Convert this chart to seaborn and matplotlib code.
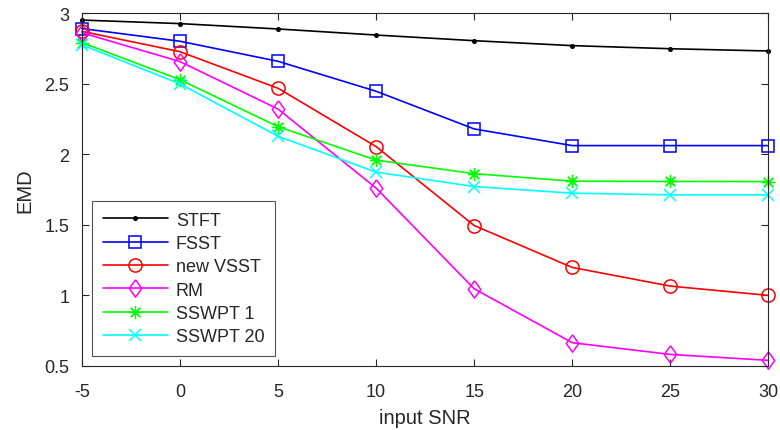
import matplotlib
matplotlib.use("Agg")
import matplotlib.pyplot as plt
import seaborn as sns
import pandas as pd

snr = [-5, 0, 5, 10, 15, 20, 25, 30]

stft = [2.95, 2.925, 2.887, 2.844, 2.804, 2.769, 2.747, 2.731]
fsst = [2.89, 2.80, 2.658, 2.446, 2.179, 2.061, 2.061, 2.061]
new_vsst = [2.87, 2.726, 2.467, 2.054, 1.495, 1.198, 1.066, 1.00]
rm = [2.86, 2.656, 2.32, 1.76, 1.047, 0.665, 0.582, 0.54]
sswpt1 = [2.79, 2.528, 2.195, 1.958, 1.862, 1.809, 1.807, 1.806]
sswpt20 = [2.774, 2.498, 2.127, 1.873, 1.771, 1.724, 1.712, 1.712]

methods = ["STFT", "FSST", "new VSST", "RM", "SSWPT 1", "SSWPT 20"]
series = [stft, fsst, new_vsst, rm, sswpt1, sswpt20]

x_ticks = [-5, 0, 5, 10, 15, 20, 25, 30]
y_ticks = [0.5, 1, 1.5, 2, 2.5, 3]
y_ticklabels = ["0.5", "1", "1.5", "2", "2.5", "3"]

df = pd.concat(
    [pd.DataFrame({"SNR": snr, "EMD": vals, "method": name})
     for name, vals in zip(methods, series)],
    ignore_index=True,
)

# diamond a bit narrower than it is tall
diamond = [(0, 1), (0.72, 0), (0, -1), (-0.72, 0), (0, 1)]

colors = ["#000000", "#0000FF", "#FF0000", "#FF00FF", "#00FF00", "#00FFFF"]
markers = [".", "s", "o", diamond, (8, 2, 0), "x"]
msizes = [5, 8, 9.5, 12.5, 9.5, 8.5]
edge_widths = [1.1, 1.1, 1.1, 1.1, 0.9, 1.1]

sns.set_theme(style="white")
plt.rcParams["font.family"] = ["Liberation Sans", "DejaVu Sans"]

fig = plt.figure(figsize=(7.8, 4.31), dpi=100)
ax = fig.add_axes([0.105, 0.1485, 0.88, 0.819])

for name, col, mk, ms, mew in zip(methods, colors, markers, msizes, edge_widths):
    sub = df[df["method"] == name]
    sns.lineplot(
        data=sub, x="SNR", y="EMD", ax=ax, color=col, label=name,
        marker=mk, markersize=ms,
        markerfacecolor=col if name == "STFT" else "none",
        markeredgecolor=col, markeredgewidth=mew, linewidth=1.2,
        clip_on=False,
    )

ax.set_xlim(-5, 30)
ax.set_ylim(0.5, 3)
ax.set_xticks(x_ticks)
ax.set_xticklabels([str(t) for t in x_ticks])
ax.set_yticks(y_ticks)
ax.set_yticklabels(y_ticklabels)
ax.set_xlabel("input SNR", fontsize=14.5, color="#262626", labelpad=6)
ax.set_ylabel("EMD", fontsize=14.5, color="#262626", labelpad=7)

for sp in ax.spines.values():
    sp.set_visible(True)
    sp.set_color("#262626")
    sp.set_linewidth(0.8)
ax.tick_params(direction="in", length=5, width=0.8, colors="#262626",
               labelsize=13, top=True, right=True, bottom=True, left=True)
ax.tick_params(axis="x", pad=12)
ax.tick_params(axis="y", pad=9)

leg = ax.legend(loc="lower left", fontsize=13, frameon=True, fancybox=False,
                handlelength=3.6, handletextpad=0.45, borderaxespad=0.55,
                labelspacing=0.35, borderpad=0.6)
leg.get_frame().set_edgecolor("#262626")
leg.get_frame().set_linewidth(0.8)

fig.savefig("out.png", dpi=100)
